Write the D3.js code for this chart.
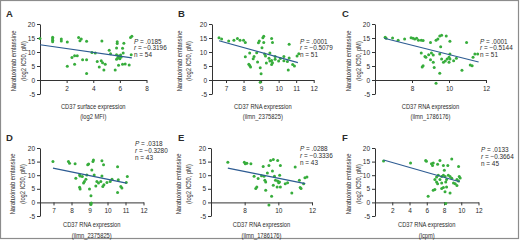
<!DOCTYPE html>
<html><head><meta charset="utf-8">
<script src="https://cdn.jsdelivr.net/npm/d3@7"></script>
<style>
body{margin:0;background:#fff}
svg{display:block}
text{font-family:"Liberation Sans",Arial,sans-serif;fill:#2b2b2b}
</style>
</head><body><div id="chart"></div>
<script>
// ---------- data ----------
const panelLetters = ["A","B","C","D","E","F"];
const xTitleLine1 = ["CD37 surface expression","CD37 RNA expression","CD37 RNA expression","CD37 RNA expression","CD37 RNA expression","CD37 RNA expression"];
const xTitleLine2 = ["(log2 MFI)","(ilmn_2375825)","(ilmn_1786176)","(ilmn_2375825)","(ilmn_1786176)","(lcpm)"];
const yTitleLines = ["Naratuximab emtansine","(log2 IC50, pM)"];
const yTicks = [-5,0,5,10,15,20];
const xTicksA = [2,4,6,8];
const xTicksB = [7,8,9,10,11,12];
const xTicksC = [8,10,12];
const xTicksD = [7,8,9,10,11,12];
const xTicksE = [8,10,12];
const xTicksF = [2,4,6,8,10,12];
const statP = [".0185",".0001",".0001",".0318",".0288",".0133"];
const statR = ["\u22120.3196","\u22120.5079","\u22120.5144","\u22120.3280","\u22120.3336","\u22120.3664"];
const statN = ["54","51","51","43","43","45"];

const pointsA = [[0.0,14.8],[0.95,15.3],[0.95,14.7],[0.95,14.2],[0.95,13.7],[1.6,14.6],[1.6,13.9],
[2.05,13.6],[2.05,4.9],[2.4,8.0],[2.6,8.7],[2.8,8.7],[2.6,5.6],[2.9,15.2],[3.1,14.6],[3.0,14.0],
[3.2,7.2],[3.5,7.2],[3.5,13.8],[3.5,2.3],[3.9,9.8],[4.15,9.6],[4.3,6.6],[4.45,4.6],[4.6,6.9],[4.65,13.9],
[4.7,6.2],[4.8,3.6],[4.9,5.6],[5.2,10.6],[5.3,9.4],[5.65,3.6],[5.75,11.4],[5.8,13.0],[5.8,13.7],[5.75,9.0],
[5.75,7.4],[5.85,8.0],[5.9,8.6],[6.0,7.6],[6.0,8.4],[5.95,7.9],[6.05,8.9],[5.9,5.3],[6.2,5.6],[6.4,5.7],
[6.25,9.6],[6.2,11.3],[6.3,13.1],[6.7,5.4],[6.8,15.2],[6.9,15.6],[6.85,9.0],[6.1,8.2]];
const pointsB = [[6.6,15.1],[6.75,14.6],[7.15,13.9],[7.45,14.2],[7.65,14.8],[7.8,14.2],[8.0,14.2],[8.1,13.4],
[8.1,8.3],[8.35,9.6],[8.35,5.2],[8.4,4.6],[8.55,7.6],[8.6,8.4],[8.75,9.7],[8.85,13.3],[8.9,13.9],[8.8,6.4],
[8.95,4.4],[9.0,2.2],[8.95,-0.8],[9.1,15.1],[9.15,15.6],[9.15,13.4],[9.05,11.5],[9.2,9.3],[9.25,8.6],
[9.45,7.8],[9.5,9.6],[9.6,14.8],[9.65,13.4],[9.5,6.8],[9.6,7.0],[9.6,5.5],[9.65,6.2],[9.8,7.4],[9.8,8.4],
[10.0,6.8],[10.1,7.7],[10.3,8.4],[10.3,6.9],[10.5,6.6],[10.6,12.8],[10.55,3.6],[10.6,7.9],[10.8,5.5],
[10.9,5.0],[11.05,8.6],[11.15,9.4],[9.3,6.1],[8.3,5.6]];
const pointsC = [[6.55,15.3],[6.6,14.9],[6.95,15.0],[7.25,14.2],[7.6,14.6],[7.95,15.1],[8.05,14.9],[8.15,14.6],
[8.25,14.9],[8.35,14.2],[8.5,14.2],[8.6,14.1],[9.0,13.4],[9.3,14.2],[9.4,14.6],[9.5,15.7],[9.6,16.0],[9.85,15.7],
[10.05,13.8],[8.5,9.6],[8.7,8.4],[8.75,8.1],[8.6,5.1],[8.55,4.6],[9.05,9.6],[9.15,8.9],[9.0,7.2],[9.15,6.3],
[9.2,4.5],[9.5,9.3],[9.55,11.9],[9.6,7.5],[9.7,6.3],[9.5,2.4],[9.3,-1.2],[9.9,7.5],[10.0,8.1],[10.05,7.5],
[10.0,6.3],[10.05,9.3],[10.25,6.9],[10.4,7.8],[10.7,3.5],[10.95,13.4],[11.15,5.4],[11.25,5.1],[11.3,8.1],
[11.4,9.3],[11.55,9.3],[9.8,6.8],[8.9,9.0]];
const pointsD = [[6.97,15.0],[7.83,15.0],[7.89,14.4],[8.2,14.2],[8.24,8.9],[8.45,10.1],[8.48,9.7],[8.45,5.6],
[8.48,4.9],[8.67,7.1],[8.72,7.7],[8.8,8.5],[8.9,13.8],[8.95,14.1],[8.85,10.1],[9.0,4.9],[9.08,2.4],[9.08,-0.8],
[9.1,-0.2],[9.19,15.0],[9.22,15.6],[9.13,11.9],[9.26,10.1],[9.41,7.7],[9.5,7.1],[9.63,7.7],[9.69,9.7],
[9.69,15.3],[9.78,13.8],[9.74,5.8],[9.8,6.5],[9.97,7.3],[10.15,7.7],[10.25,8.5],[10.56,13.1],[10.56,3.6],
[10.6,8.3],[10.74,5.8],[10.8,5.3],[11.1,9.5],[11.04,7.3],[9.35,6.0],[8.6,9.5]];
const pointsE = [[7.0,14.8],[7.98,14.8],[8.04,14.2],[8.13,14.4],[8.37,14.2],[8.56,9.6],[8.66,5.1],[8.72,5.7],
[8.8,8.8],[9.1,13.2],[9.15,9.6],[9.2,8.1],[9.25,7.5],[9.25,4.5],[9.35,10.8],[9.44,13.6],[9.54,15.4],[9.7,15.8],
[9.6,2.3],[9.44,-1.0],[9.65,11.5],[9.7,6.3],[9.77,9.6],[9.83,8.1],[9.96,15.4],[9.96,7.9],[10.02,7.2],
[10.07,7.5],[10.08,10.0],[10.12,5.7],[9.93,5.7],[10.12,13.6],[10.41,6.9],[10.55,7.2],[10.8,3.5],[11.0,13.0],
[11.25,8.1],[11.3,5.5],[11.35,5.1],[11.58,9.1],[11.7,9.3],[11.5,6.9],[9.0,9.8]];
const pointsF = [[0.99,15.2],[4.12,14.5],[5.88,15.4],[5.96,15.1],[6.55,14.2],[6.75,14.5],[6.67,13.6],[7.26,14.0],
[7.53,15.4],[7.93,13.6],[8.44,13.6],[8.9,16.0],[9.69,13.2],[7.14,9.3],[7.34,10.0],[7.73,9.5],[7.93,10.0],
[8.12,9.5],[8.04,11.8],[8.5,10.0],[8.7,9.5],[6.94,8.4],[7.14,7.5],[7.26,6.9],[7.53,8.4],[7.73,7.1],[8.2,7.5],
[8.3,8.4],[8.9,8.9],[9.1,7.1],[9.5,8.4],[9.69,7.9],[9.77,9.5],[9.88,9.0],[9.3,6.9],[9.5,6.2],[7.73,5.1],
[7.93,5.5],[8.3,5.7],[6.94,4.7],[6.75,4.5],[6.16,2.3],[8.12,3.9],[8.7,3.5],[8.2,-0.4]];
// fitted regression line end points: [xStart, yStart, xEnd, yEnd]
const fitA = [0.0,12.6,6.9,7.9];
const fitB = [6.6,14.0,11.1,6.2];
const fitC = [6.5,14.9,11.6,6.4];
const fitD = [6.97,12.6,11.05,7.1];
const fitE = [7.0,12.6,11.6,6.9];
const fitF = [1.0,15.6,9.8,7.6];

// ---------- layout (positions / styles only) ----------
const W = 520, H = 248;
const rowY = [{top:24, bottom:94}, {top:148, bottom:216}];
const panels = [
  {pts:pointsA, fit:fitA, ticks:xTicksA, dom:[0,8],     rng:[40,146.5],  row:0, letterX:6,   titleOff:[26,16], statX:134, statY:43.5},
  {pts:pointsB, fit:fitB, ticks:xTicksB, dom:[6.2,12],  rng:[212,313.7], row:0, letterX:178, titleOff:[32,23], statX:300, statY:43.5},
  {pts:pointsC, fit:fitC, ticks:xTicksC, dom:[6,12],    rng:[375,486],   row:0, letterX:342, titleOff:[26,16], statX:480, statY:43.5},
  {pts:pointsD, fit:fitD, ticks:xTicksD, dom:[6.25,12], rng:[40,143.5],  row:1, letterX:6,   titleOff:[27,17], statX:135, statY:146},
  {pts:pointsE, fit:fitE, ticks:xTicksE, dom:[6,12],    rng:[211,312],   row:1, letterX:178, titleOff:[32,22], statX:300, statY:151},
  {pts:pointsF, fit:fitF, ticks:xTicksF, dom:[0,12],    rng:[375,478.5], row:1, letterX:342, titleOff:[26,16], statX:481, statY:152}
];
const green = "#37ad3c", lineBlue = "#2d5b92", axisCol = "#333";
const condense = 0.8;

const svg = d3.select("#chart").append("svg").attr("width",W).attr("height",H);
svg.append("rect").attr("x",0.5).attr("y",0.5).attr("width",518).attr("height",238)
  .attr("fill","#fff").attr("stroke","#8c8c8c").attr("stroke-width",1.2);

function narrow(sel){
  sel.each(function(){
    const L = this.getComputedTextLength();
    d3.select(this).attr("textLength",L*condense).attr("lengthAdjust","spacingAndGlyphs");
  });
  return sel;
}

panels.forEach((p,i)=>{
  const x = d3.scaleLinear().domain(p.dom).range(p.rng);
  const y = d3.scaleLinear().domain([-5,20]).range([rowY[p.row].bottom, rowY[p.row].top]);
  const g = svg.append("g");

  // axes
  const ya = g.append("g").attr("transform",`translate(${p.rng[0]},0)`)
    .call(d3.axisLeft(y).tickValues(yTicks).tickSize(3).tickSizeOuter(0).tickPadding(2).tickFormat(d=>d<0?"-"+Math.abs(d):String(d)));
  const xa = g.append("g").attr("transform",`translate(0,${y(0)})`)
    .call(d3.axisBottom(x).tickValues(p.ticks).tickSize(3).tickSizeOuter(0).tickPadding(3).tickFormat(d3.format("d")));
  [ya,xa].forEach(a=>{
    a.selectAll("path,line").attr("stroke",axisCol).attr("stroke-width",1);
    a.selectAll("text").attr("font-size",6.5).attr("fill","#2b2b2b").attr("font-family","Liberation Sans, Arial, sans-serif");
  });

  // points
  g.selectAll("circle").data(p.pts).enter().append("circle")
    .attr("cx",d=>x(d[0])).attr("cy",d=>y(d[1])).attr("r",1.5).attr("fill",green);

  // regression line
  g.append("line").attr("x1",x(p.fit[0])).attr("y1",y(p.fit[1])).attr("x2",x(p.fit[2])).attr("y2",y(p.fit[3]))
    .attr("stroke",lineBlue).attr("stroke-width",1.1);

  // panel letter
  svg.append("text").attr("x",p.letterX).attr("y",rowY[p.row].top-7)
    .attr("font-size",9.5).attr("font-weight","bold").attr("fill","#1a1a1a").text(panelLetters[i]);

  // y title
  const cy = (rowY[p.row].top + rowY[p.row].bottom)/2 + 2;
  yTitleLines.forEach((t,k)=>{
    svg.append("text").attr("font-size",7.2)
      .attr("transform",`translate(${p.rng[0]-p.titleOff[k]+2.3},${cy}) rotate(-90)`)
      .attr("text-anchor","middle").text(t).call(narrow);
  });

  // x title
  const cx = (p.rng[0]+p.rng[1])/2;
  const xt0 = y(0) + (p.row===0 ? 28.5 : 25);
  svg.append("text").attr("font-size",7.2).attr("text-anchor","middle")
    .attr("x",cx).attr("y",xt0).text(xTitleLine1[i]).call(narrow);
  svg.append("text").attr("font-size",7.2).attr("text-anchor","middle")
    .attr("x",cx).attr("y",xt0+10.5).text(xTitleLine2[i]).call(narrow);

  // stats
  const st = svg.append("g").attr("font-size",6.4);
  const t1 = st.append("text").attr("x",p.statX).attr("y",p.statY);
  t1.append("tspan").attr("font-style","italic").text("P");
  t1.append("tspan").text(" = "+statP[i]);
  const t2 = st.append("text").attr("x",p.statX).attr("y",p.statY+6.8);
  t2.append("tspan").attr("font-style","italic").text("r");
  t2.append("tspan").text(" = "+statR[i]);
  st.append("text").attr("x",p.statX).attr("y",p.statY+13.6).text("n = "+statN[i]);
});
</script>
</body></html>
